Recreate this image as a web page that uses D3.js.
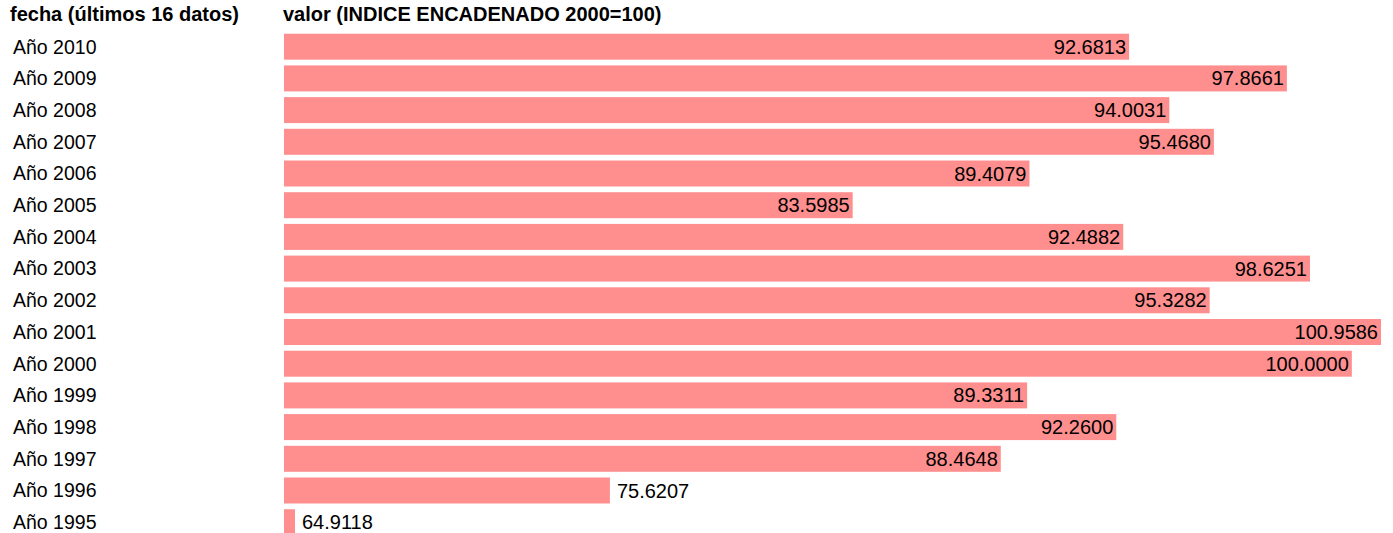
<!DOCTYPE html>
<html>
<head>
<meta charset="utf-8">
<script src="https://cdn.jsdelivr.net/npm/d3@7"></script>
<style>
  body { margin: 0; background: #fff; }
  text { font-family: "Liberation Sans", Arial, sans-serif; fill: #000; }
</style>
</head>
<body>
<script>
// data, top row first
const years = ["Año 2010", "Año 2009", "Año 2008", "Año 2007", "Año 2006", "Año 2005",
  "Año 2004", "Año 2003", "Año 2002", "Año 2001", "Año 2000", "Año 1999",
  "Año 1998", "Año 1997", "Año 1996", "Año 1995"];
const values = [92.6813, 97.8661, 94.0031, 95.4680, 89.4079, 83.5985,
  92.4882, 98.6251, 95.3282, 100.9586, 100.0000, 89.3311,
  92.2600, 88.4648, 75.6207, 64.9118];
const headers = ["fecha (últimos 16 datos)", "valor (INDICE ENCADENADO 2000=100)"];

const width = 1393, height = 533;
const barLeft = 284, barMax = 1097;

const svg = d3.select("body").append("svg")
    .attr("width", width)
    .attr("height", height);

var data = years.map((y, i) => ({ year: y, value: values[i] }));

// x scale: min value -> 0, max value -> full width
var x = d3.scaleLinear()
    .domain([d3.min(values), d3.max(values)])
    .range([0, barMax]);

var y = d3.scaleBand()
    .domain(years)
    .range([30.85, 30.85 + 16 * 31.7])
    .paddingInner(0.18)
    .paddingOuter(0.09);

const barW = d => Math.max(11, x(d.value));

// headers
svg.append("text")
    .attr("x", 10).attr("y", 21)
    .style("font-size", "20px").style("font-weight", "bold")
    .text(headers[0]);
svg.append("text")
    .attr("x", 283).attr("y", 21)
    .style("font-size", "20px").style("font-weight", "bold")
    .text(headers[1]);

// row labels
svg.selectAll("text.row")
    .data(data)
    .enter()
    .append("text")
      .attr("class", "row")
      .attr("x", 13)
      .attr("y", d => y(d.year) + y.bandwidth() / 2)
      .attr("dy", "0.35em")
      .style("font-size", "19.5px")
      .text(d => d.year);

// bars
svg.selectAll("rect")
    .data(data)
    .enter()
    .append("rect")
      .attr("x", barLeft)
      .attr("y", d => y(d.year))
      .attr("width", barW)
      .attr("height", y.bandwidth())
      .style("fill", "#ff8f8f");

// value labels, inside the bar when it is long enough
svg.selectAll("text.val")
    .data(data)
    .enter()
    .append("text")
      .attr("class", "val")
      .attr("x", d => x(d.value) > barMax / 2 ? barLeft + barW(d) - 3 : barLeft + barW(d) + 7)
      .attr("y", d => y(d.year) + y.bandwidth() / 2)
      .attr("dy", "0.35em")
      .attr("text-anchor", d => x(d.value) > barMax / 2 ? "end" : "start")
      .style("font-size", "20px")
      .text(d => d.value.toFixed(4));
</script>
</body>
</html>
